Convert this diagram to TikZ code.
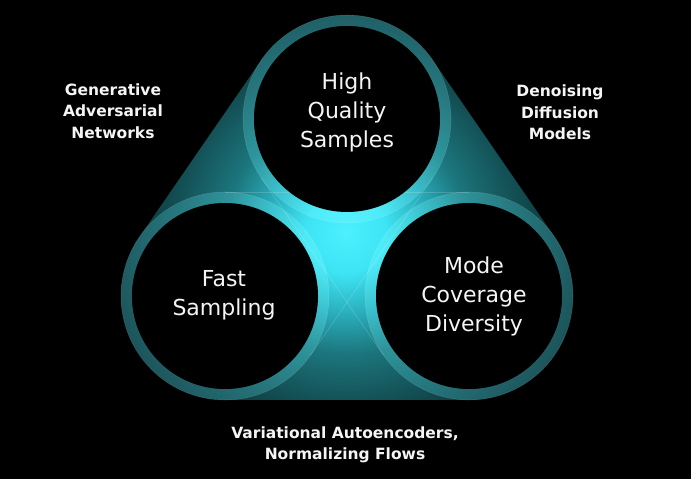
\documentclass[tikz,border=0pt]{standalone}
\usepackage{fontspec}
\setmainfont{DejaVu Sans}
\usetikzlibrary{calc}
\definecolor{g0}{RGB}{76,240,255}
\definecolor{g1}{RGB}{62,228,244}
\definecolor{g2}{RGB}{42,174,188}
\definecolor{g3}{RGB}{28,118,125}
\definecolor{g4}{RGB}{19,80,85}
\definecolor{g5}{RGB}{11,48,52}
\definecolor{g6}{RGB}{5,26,28}
\definecolor{ringc}{RGB}{20,56,60}
\definecolor{txt}{RGB}{245,245,245}
\pgfdeclareradialshading{glow}{\pgfpoint{0bp}{0bp}}{color(0bp)=(g0); color(40bp)=(g1); color(80bp)=(g2); color(120bp)=(g3); color(170bp)=(g4); color(220bp)=(g5); color(260bp)=(g6)}
\tikzset{
  disc/.style={circle, fill=black, draw=none, minimum size=186pt, inner sep=0pt},
  inner/.style={text=txt, align=center, font=\fontsize{22}{29}\selectfont},
  outer/.style={text=txt, align=center, font=\fontsize{15.5}{21.5}\selectfont\bfseries},
  faint/.style={white, opacity=0.16, line width=0.7pt},
  ringedge/.style={white, opacity=0.12, line width=0.6pt}
}
\begin{document}
\begin{tikzpicture}[x=1pt,y=1pt]
\fill[black] (0,0) rectangle (691,479);
\useasboundingbox (0,0) rectangle (691,479);
\coordinate (T) at (347,360);
\coordinate (L) at (225,183);
\coordinate (R) at (469,183);
\coordinate (G) at (346,246);
% glow hull
\begin{scope}
\clip (261.37,419.02) arc[start angle=145.42,end angle=34.58,radius=104pt]
  -- (554.63,242.02) arc[start angle=34.58,end angle=-90,radius=104pt]
  -- (225,79) arc[start angle=270,end angle=145.42,radius=104pt] -- cycle;
\node[inner sep=0pt, outer sep=0pt] (glow) at (G) {\pgfuseshading{glow}};
\end{scope}
% inner band edges
\coordinate (a1) at (225,287);
\coordinate (a2) at (469,287);
\coordinate (b1) at (261.37,300.98);
\coordinate (b2) at (383.37,123.98);
\coordinate (c1) at (432.63,300.98);
\coordinate (c2) at (310.63,123.98);
\draw[faint] (a1) -- (a2);
\draw[faint] (b1) -- (b2);
\draw[faint] (c1) -- (c2);
% rings
\foreach \c in {T,L,R}{
  \fill[ringc, blend mode=screen, even odd rule] (\c) circle (104pt) (\c) circle (93pt);
  \draw[ringedge] (\c) circle (104pt);
}
% discs
\node[disc] (dT) at (T) {};
\node[disc] (dL) at (L) {};
\node[disc] (dR) at (R) {};
% texts
\node[inner] (tT) at (347,367) {High\\Quality\\Samples};
\node[inner] (tL) at (224,183.5) {Fast\\Sampling};
\node[inner] (tR) at (474,182.5) {Mode\\Coverage\\Diversity};
\node[outer] (gan) at (113,368) {Generative\\Adversarial\\Networks};
\node[outer] (ddm) at (560,366.5) {Denoising\\Diffusion\\Models};
\node[outer] (vae) at (345,34) {Variational Autoencoders,\\Normalizing Flows};
\end{tikzpicture}
\end{document}
